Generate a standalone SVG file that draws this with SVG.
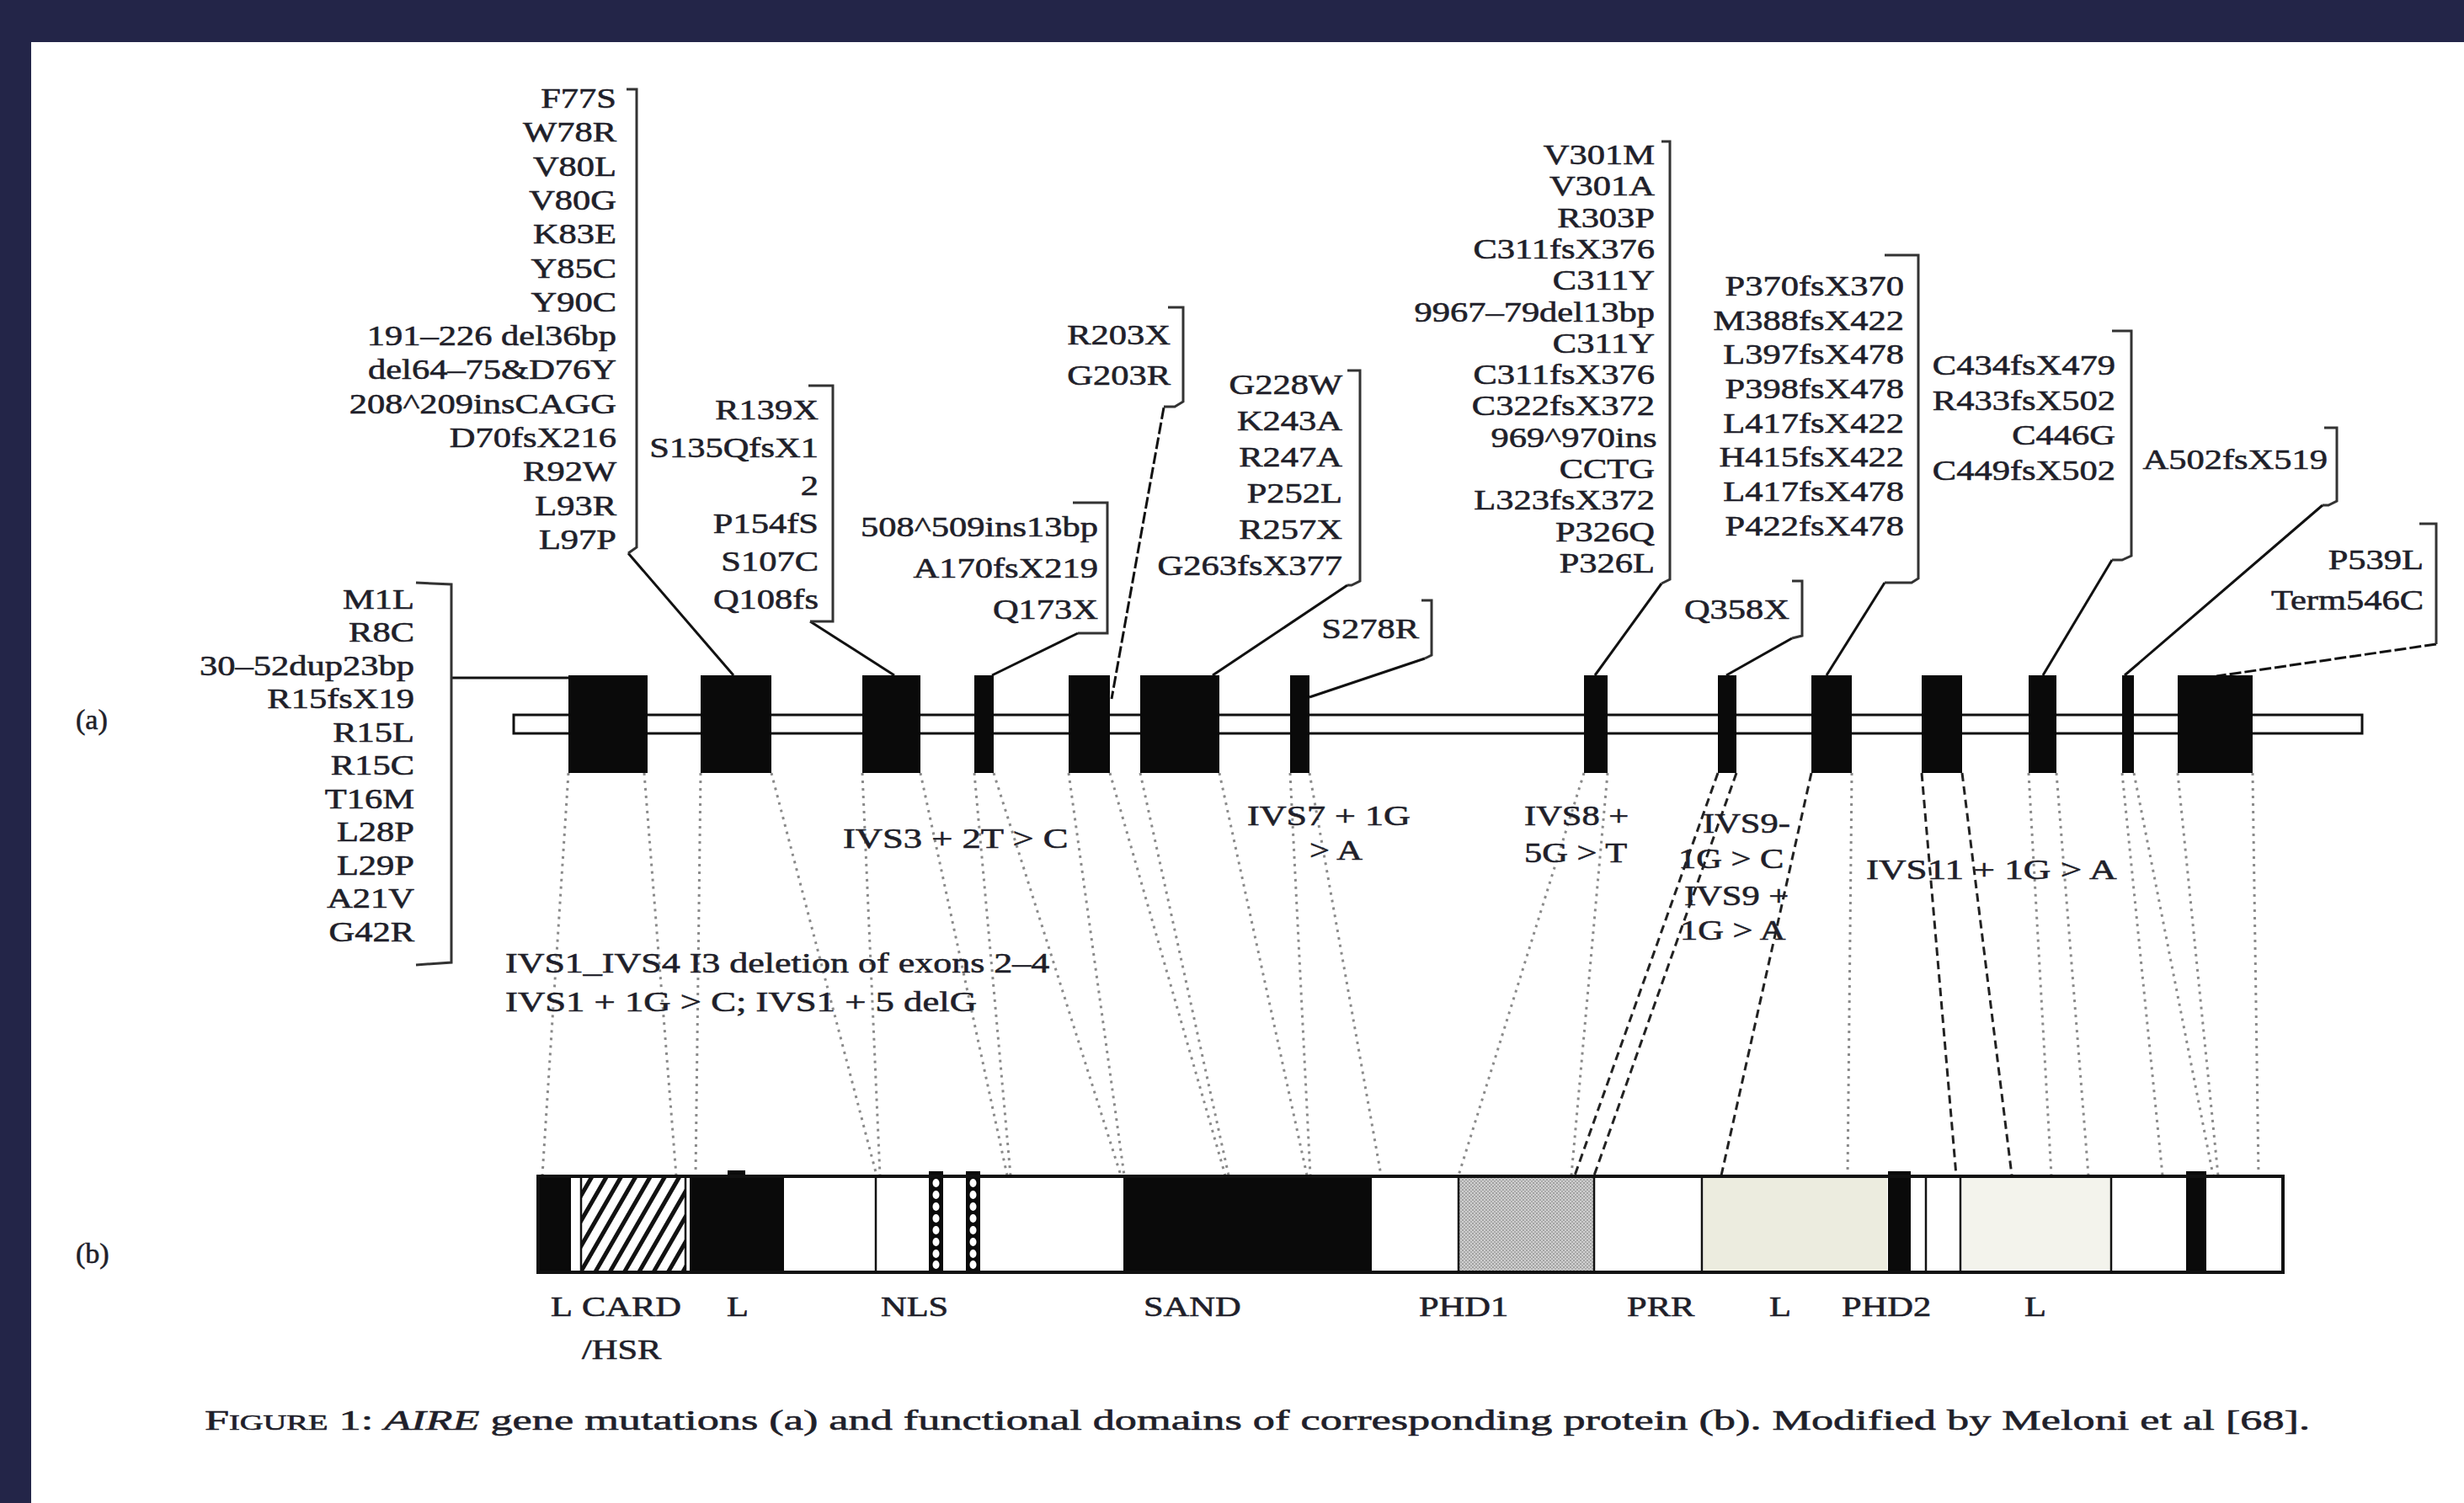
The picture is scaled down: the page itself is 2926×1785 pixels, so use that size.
<svg xmlns="http://www.w3.org/2000/svg" width="2926" height="1785" viewBox="0 0 2926 1785">
<defs>
<style>
text{font-family:"Liberation Serif","Times New Roman",serif;font-size:34px;fill:#1f1f2a;stroke:#1f1f2a;stroke-width:0.6px}
.e{text-anchor:end}
.br{fill:none;stroke:#333;stroke-width:3}
.ld{fill:none;stroke:#111;stroke-width:3}
.dt{fill:none;stroke:#8a8a8a;stroke-width:3;stroke-dasharray:3 6}
.dk{fill:none;stroke:#222;stroke-width:3;stroke-dasharray:10 6}
.ex{fill:#0a0a0a}
.vl{stroke:#111;stroke-width:2.5}
</style>
<pattern id="hatch" patternUnits="userSpaceOnUse" width="15" height="15" patternTransform="rotate(30)">
<rect width="15" height="15" fill="#fff"/>
<rect x="0" y="0" width="5" height="15" fill="#111"/>
</pattern>
<pattern id="stip" patternUnits="userSpaceOnUse" width="4" height="4">
<rect width="4" height="4" fill="#cfcfcf"/>
<circle cx="1" cy="1" r="0.9" fill="#8c8c8c"/>
<circle cx="3" cy="3" r="0.9" fill="#9a9a9a"/>
</pattern>
</defs>
<rect width="2926" height="1785" fill="#232548"/>
<rect x="37" y="50" width="2889" height="1735" fill="#fff"/>

<text x="90" y="866">(a)</text>
<text x="90" y="1500">(b)</text>

<!-- connectors -->
<g id="connectors">
<path class="ld" d="M536,805 H675" stroke="#555"/>
<path class="ld" d="M746,657 L871,802"/>
<path class="ld" d="M962,738 L1062,802"/>
<path class="ld" d="M1280,752 L1178,802"/>
<path class="ld" d="M1382,484 L1320,830" stroke-dasharray="14 4"/>
<path class="ld" d="M1600,695 L1440,802"/>
<path class="ld" d="M1692,782 L1555,828"/>
<path class="ld" d="M1973,693 L1894,802"/>
<path class="ld" d="M2128,758 L2050,802"/>
<path class="ld" d="M2238,692 L2169,802"/>
<path class="ld" d="M2508,665 L2426,802"/>
<path class="ld" d="M2758,600 L2523,802"/>
<path class="ld" d="M2893,765 L2632,803" stroke-dasharray="14 4"/>
<!-- exon to protein mapping -->
<path class="dt" d="M675,918 L644,1396"/>
<path class="dt" d="M765,918 L803,1396"/>
<path class="dt" d="M832,918 L826,1396"/>
<path class="dt" d="M916,918 L1041,1396"/>
<path class="dt" d="M1024,918 L1045,1396"/>
<path class="dt" d="M1093,918 L1196,1396"/>
<path class="dt" d="M1157,918 L1200,1396"/>
<path class="dt" d="M1180,918 L1331,1396"/>
<path class="dt" d="M1269,918 L1335,1396"/>
<path class="dt" d="M1318,918 L1455,1396"/>
<path class="dt" d="M1354,918 L1459,1396"/>
<path class="dt" d="M1448,918 L1552,1396"/>
<path class="dt" d="M1532,918 L1556,1396"/>
<path class="dt" d="M1555,918 L1640,1396"/>
<path class="dt" d="M1881,918 L1732,1396"/>
<path class="dt" d="M1909,918 L1866,1396"/>
<path class="dk" d="M2040,918 L1870,1396"/>
<path class="dk" d="M2062,918 L1893,1396"/>
<path class="dk" d="M2151,918 L2044,1396"/>
<path class="dt" d="M2199,918 L2194,1396"/>
<path class="dk" d="M2282,918 L2323,1396"/>
<path class="dk" d="M2330,918 L2389,1396"/>
<path class="dt" d="M2409,918 L2436,1396"/>
<path class="dt" d="M2442,918 L2480,1396"/>
<path class="dt" d="M2520,918 L2568,1396"/>
<path class="dt" d="M2534,918 L2628,1396"/>
<path class="dt" d="M2586,918 L2634,1396"/>
<path class="dt" d="M2675,918 L2682,1396"/>
</g>

<!-- gene -->
<g id="gene">
<rect x="610" y="849" width="2195" height="22" fill="#fff" stroke="#111" stroke-width="3"/>
<rect class="ex" x="675" y="802" width="94" height="116"/>
<rect class="ex" x="832" y="802" width="84" height="116"/>
<rect class="ex" x="1024" y="802" width="69" height="116"/>
<rect class="ex" x="1157" y="802" width="23" height="116"/>
<rect class="ex" x="1269" y="802" width="49" height="116"/>
<rect class="ex" x="1354" y="802" width="94" height="116"/>
<rect class="ex" x="1532" y="802" width="23" height="116"/>
<rect class="ex" x="1881" y="802" width="28" height="116"/>
<rect class="ex" x="2040" y="802" width="22" height="116"/>
<rect class="ex" x="2151" y="802" width="48" height="116"/>
<rect class="ex" x="2282" y="802" width="48" height="116"/>
<rect class="ex" x="2409" y="802" width="33" height="116"/>
<rect class="ex" x="2520" y="802" width="14" height="116"/>
<rect class="ex" x="2586" y="802" width="89" height="116"/>
</g>

<!-- protein -->
<g id="protein">
<rect x="639" y="1397" width="2072" height="114" fill="#fff" stroke="#111" stroke-width="4"/>
<rect class="ex" x="639" y="1397" width="39" height="114"/>
<rect x="690" y="1397" width="124" height="114" fill="url(#hatch)" stroke="#111" stroke-width="2.5"/>
<rect class="ex" x="819" y="1397" width="112" height="114"/>
<rect class="ex" x="864" y="1390" width="21" height="8"/>
<line class="vl" x1="1040" y1="1397" x2="1040" y2="1511"/>
<rect class="ex" x="1103" y="1391" width="17" height="121"/>
<rect class="ex" x="1147" y="1391" width="17" height="121"/>
<g fill="#fff">
<ellipse cx="1111.5" cy="1405" rx="4" ry="5"/><ellipse cx="1111.5" cy="1419" rx="4" ry="5"/><ellipse cx="1111.5" cy="1433" rx="4" ry="5"/><ellipse cx="1111.5" cy="1447" rx="4" ry="5"/><ellipse cx="1111.5" cy="1461" rx="4" ry="5"/><ellipse cx="1111.5" cy="1475" rx="4" ry="5"/><ellipse cx="1111.5" cy="1489" rx="4" ry="5"/><ellipse cx="1111.5" cy="1502" rx="4" ry="5"/>
<ellipse cx="1155.5" cy="1405" rx="4" ry="5"/><ellipse cx="1155.5" cy="1419" rx="4" ry="5"/><ellipse cx="1155.5" cy="1433" rx="4" ry="5"/><ellipse cx="1155.5" cy="1447" rx="4" ry="5"/><ellipse cx="1155.5" cy="1461" rx="4" ry="5"/><ellipse cx="1155.5" cy="1475" rx="4" ry="5"/><ellipse cx="1155.5" cy="1489" rx="4" ry="5"/><ellipse cx="1155.5" cy="1502" rx="4" ry="5"/>
</g>
<rect class="ex" x="1334" y="1397" width="295" height="114"/>
<rect x="1732" y="1397" width="161" height="114" fill="url(#stip)" stroke="#111" stroke-width="2.5"/>
<line class="vl" x1="2021" y1="1397" x2="2021" y2="1511"/>
<rect x="2023" y="1399" width="218" height="110" fill="#ececdf"/>
<rect class="ex" x="2242" y="1391" width="27" height="121"/>
<line class="vl" x1="2287" y1="1397" x2="2287" y2="1511"/>
<line class="vl" x1="2328" y1="1397" x2="2328" y2="1511"/>
<rect x="2330" y="1399" width="176" height="110" fill="#f3f3ec"/>
<line class="vl" x1="2507" y1="1397" x2="2507" y2="1511"/>
<rect class="ex" x="2596" y="1391" width="24" height="121"/>
<rect x="639" y="1397" width="2072" height="114" fill="none" stroke="#111" stroke-width="4"/>
<g transform="scale(1.25 1)">
<text x="523.2" y="1563">L</text>
<text x="552.8" y="1563">CARD</text>
<text x="552.8" y="1614">/HSR</text>
<text x="690.4" y="1563">L</text>
<text x="836.8" y="1563">NLS</text>
<text x="1086.4" y="1563">SAND</text>
<text x="1348" y="1563">PHD1</text>
<text x="1545.6" y="1563">PRR</text>
<text x="1680.8" y="1563">L</text>
<text x="1749.6" y="1563">PHD2</text>
<text x="1923.2" y="1563">L</text>
</g>
</g>

<!-- mutation blocks -->
<g id="mut-exon1">
<path class="br" d="M494,692 L536,694 V1143 L494,1146"/>
<g transform="scale(1.25 1)">
<text class="e" x="393.6" y="723">M1L</text>
<text class="e" x="393.6" y="762.5">R8C</text>
<text class="e" x="393.6" y="802">30–52dup23bp</text>
<text class="e" x="393.6" y="841.5">R15fsX19</text>
<text class="e" x="393.6" y="881">R15L</text>
<text class="e" x="393.6" y="920.5">R15C</text>
<text class="e" x="393.6" y="960">T16M</text>
<text class="e" x="393.6" y="999.5">L28P</text>
<text class="e" x="393.6" y="1039">L29P</text>
<text class="e" x="393.6" y="1078.5">A21V</text>
<text class="e" x="393.6" y="1118">G42R</text>
</g>
</g>

<g id="mut-exon2">
<path class="br" d="M744,106 H756 V650 L746,657"/>
<g transform="scale(1.25 1)">
<text class="e" x="585.6" y="128">F77S</text>
<text class="e" x="585.6" y="168">W78R</text>
<text class="e" x="585.6" y="209">V80L</text>
<text class="e" x="585.6" y="249">V80G</text>
<text class="e" x="585.6" y="289">K83E</text>
<text class="e" x="585.6" y="330">Y85C</text>
<text class="e" x="585.6" y="370">Y90C</text>
<text class="e" x="585.6" y="410">191–226 del36bp</text>
<text class="e" x="585.6" y="450">del64–75&amp;D76Y</text>
<text class="e" x="585.6" y="491">208^209insCAGG</text>
<text class="e" x="585.6" y="531">D70fsX216</text>
<text class="e" x="585.6" y="571">R92W</text>
<text class="e" x="585.6" y="612">L93R</text>
<text class="e" x="585.6" y="652">L97P</text>
</g>
</g>

<g id="mut-exon3">
<path class="br" d="M960,458 H989 V738 H962"/>
<g transform="scale(1.25 1)">
<text class="e" x="777.6" y="498">R139X</text>
<text class="e" x="777.6" y="543">S135QfsX1</text>
<text class="e" x="777.6" y="588">2</text>
<text class="e" x="777.6" y="633">P154fS</text>
<text class="e" x="777.6" y="678">S107C</text>
<text class="e" x="777.6" y="723">Q108fs</text>
</g>
</g>

<g id="mut-exon4">
<path class="br" d="M1274,597 H1315 V752 H1280"/>
<g transform="scale(1.25 1)">
<text class="e" x="1043.2" y="637">508^509ins13bp</text>
<text class="e" x="1043.2" y="686">A170fsX219</text>
<text class="e" x="1043.2" y="735">Q173X</text>
</g>
</g>

<g id="mut-exon5">
<path class="br" d="M1387,365 H1405 V477 L1395,483 H1382"/>
<g transform="scale(1.25 1)">
<text class="e" x="1112" y="409">R203X</text>
<text class="e" x="1112" y="457">G203R</text>
</g>
</g>

<g id="mut-exon6">
<path class="br" d="M1600,440 H1615 V690 L1605,695 H1600"/>
<g transform="scale(1.25 1)">
<text class="e" x="1275.2" y="468">G228W</text>
<text class="e" x="1275.2" y="511">K243A</text>
<text class="e" x="1275.2" y="554">R247A</text>
<text class="e" x="1275.2" y="597">P252L</text>
<text class="e" x="1275.2" y="640">R257X</text>
<text class="e" x="1275.2" y="683">G263fsX377</text>
</g>
</g>

<g id="mut-exon7">
<path class="br" d="M1688,713 H1700 V778 L1692,782"/>
<g transform="scale(1.25 1)">
<text class="e" x="1348" y="758">S278R</text>
</g>
</g>

<g id="mut-exon8">
<path class="br" d="M1973,168 H1983 V688 L1973,693"/>
<g transform="scale(1.25 1)">
<text class="e" x="1572" y="195">V301M</text>
<text class="e" x="1572" y="232">V301A</text>
<text class="e" x="1572" y="270">R303P</text>
<text class="e" x="1572" y="307">C311fsX376</text>
<text class="e" x="1572" y="344">C311Y</text>
<text class="e" x="1572" y="382">9967–79del13bp</text>
<text class="e" x="1572" y="419">C311Y</text>
<text class="e" x="1572" y="456">C311fsX376</text>
<text class="e" x="1572" y="493">C322fsX372</text>
<text class="e" x="1574" y="531">969^970ins</text>
<text class="e" x="1572" y="568">CCTG</text>
<text class="e" x="1572" y="605">L323fsX372</text>
<text class="e" x="1572" y="643">P326Q</text>
<text class="e" x="1572" y="680">P326L</text>
</g>
</g>

<g id="mut-exon9">
<path class="br" d="M2128,690 H2140 V755 L2128,758"/>
<g transform="scale(1.25 1)">
<text class="e" x="1700" y="735">Q358X</text>
</g>
</g>

<g id="mut-exon10">
<path class="br" d="M2238,303 H2278 V687 L2270,692 H2238"/>
<g transform="scale(1.25 1)">
<text class="e" x="1808.8" y="351">P370fsX370</text>
<text class="e" x="1808.8" y="392">M388fsX422</text>
<text class="e" x="1808.8" y="432">L397fsX478</text>
<text class="e" x="1808.8" y="473">P398fsX478</text>
<text class="e" x="1808.8" y="514">L417fsX422</text>
<text class="e" x="1808.8" y="554">H415fsX422</text>
<text class="e" x="1808.8" y="595">L417fsX478</text>
<text class="e" x="1808.8" y="636">P422fsX478</text>
</g>
</g>

<g id="mut-exon12">
<path class="br" d="M2508,393 H2531 V660 L2520,665 H2508"/>
<g transform="scale(1.25 1)">
<text class="e" x="2009.6" y="445">C434fsX479</text>
<text class="e" x="2009.6" y="487">R433fsX502</text>
<text class="e" x="2009.6" y="528">C446G</text>
<text class="e" x="2009.6" y="570">C449fsX502</text>
</g>
</g>

<g id="mut-exon13">
<path class="br" d="M2760,508 H2775 V595 L2765,600 H2758"/>
<g transform="scale(1.25 1)">
<text class="e" x="2211.2" y="557">A502fsX519</text>
</g>
</g>

<g id="mut-exon14">
<path class="br" d="M2873,622 H2893 V765"/>
<g transform="scale(1.25 1)">
<text class="e" x="2302.4" y="676">P539L</text>
<text class="e" x="2302.4" y="724">Term546C</text>
</g>
</g>

<!-- splice-site labels -->
<g id="ivs-labels" transform="scale(1.25 1)">
<text x="800.8" y="1007" textLength="214" lengthAdjust="spacingAndGlyphs">IVS3 + 2T &gt; C</text>
<text x="480" y="1155" textLength="517" lengthAdjust="spacingAndGlyphs">IVS1_IVS4 I3 deletion of exons 2–4</text>
<text x="480" y="1201" textLength="448" lengthAdjust="spacingAndGlyphs">IVS1 + 1G &gt; C; IVS1 + 5 delG</text>
<text x="1184.8" y="980" textLength="155" lengthAdjust="spacingAndGlyphs">IVS7 + 1G</text>
<text x="1244" y="1021">&gt; A</text>
<text x="1448" y="980">IVS8 +</text>
<text x="1448" y="1024">5G &gt; T</text>
<text x="1617.6" y="989">IVS9-</text>
<text x="1594.4" y="1031">1G &gt; C</text>
<text x="1600" y="1075">IVS9 +</text>
<text x="1596" y="1116">1G &gt; A</text>
<text x="1772.8" y="1044" textLength="238" lengthAdjust="spacingAndGlyphs">IVS11 + 1G &gt; A</text>
</g>

<text id="caption" x="243" y="1698" font-size="33" textLength="2500" lengthAdjust="spacingAndGlyphs">F<tspan font-size="25">IGURE</tspan> 1: <tspan font-style="italic">AIRE</tspan> gene mutations (a) and functional domains of corresponding protein (b). Modified by Meloni et al [68].</text>
</svg>
